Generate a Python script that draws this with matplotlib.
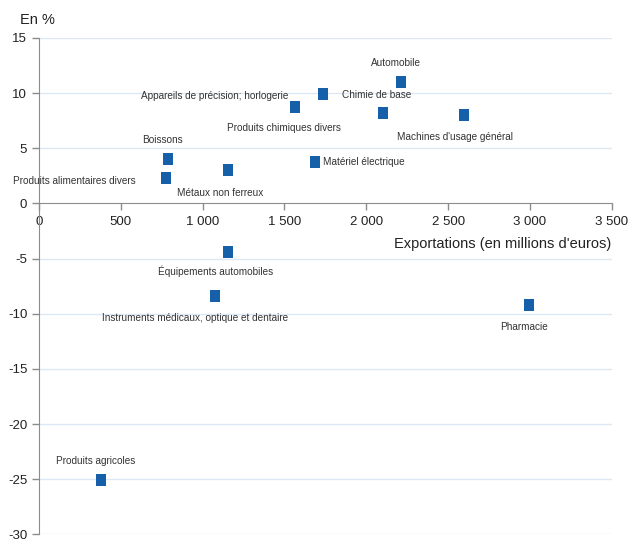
import matplotlib
matplotlib.use('Agg')
from matplotlib import pyplot as plt

# secteurs : exportations (M€) et évolution (%)
secteurs = ['Produits agricoles', 'Produits alimentaires divers', 'Boissons',
            'Métaux non ferreux', 'Appareils de précision; horlogerie',
            'Produits chimiques divers', 'Matériel électrique', 'Automobile',
            'Chimie de base', "Machines d'usage général",
            'Équipements automobiles', 'Instruments médicaux, optique et dentaire',
            'Pharmacie']
exportations = [380, 775, 790, 1155, 1565, 1735, 1685, 2215, 2105, 2600,
                1155, 1075, 2995]
evolution = [-25.1, 2.3, 4.0, 3.0, 8.7, 9.9, 3.8, 11.0, 8.2, 8.0,
             -4.4, -8.4, -9.2]

# placement des étiquettes (décalage en points, alignement horizontal)
offsets = [((-4, 14), 'center'), ((-22, -2), 'right'), ((-4, 14), 'center'),
           ((-6, -16), 'center'), ((-5, 8), 'right'), ((-28, -24), 'center'),
           ((6, 0), 'left'), ((-4, 14), 'center'), ((-5, 13), 'center'),
           ((-7, -16), 'center'), ((-9, -14), 'center'), ((-14, -16), 'center'),
           ((-4, -16), 'center')]

plt.rcParams['font.family'] = ['Liberation Sans', 'DejaVu Sans']
plt.rcParams['axes.unicode_minus'] = False
bleu = '#1660a9'
gris = '#8c8c8c'

fig = plt.figure(figsize=(6.3, 5.42), dpi=100)
ax = fig.add_axes([0.062, 0.014, 0.909, 0.916])

ax.set_xlim(0, 3500)
ax.set_ylim(-30, 15)

for y in range(-30, 16, 5):
    if y != 0:
        ax.axhline(y, color='#dce8f4', lw=1.0, zorder=0)

marqueur = [(-0.38, -0.5), (0.38, -0.5), (0.38, 0.5), (-0.38, 0.5), (-0.38, -0.5)]
ax.scatter(exportations, evolution, marker=marqueur, s=75, color=bleu,
           linewidths=0, zorder=3)

for nom, x, y, (off, ha) in zip(secteurs, exportations, evolution, offsets):
    ax.annotate(nom, (x, y), xytext=off, textcoords='offset points',
                ha=ha, va='center', fontsize=7.2, color='#333333')

ax.spines['top'].set_visible(False)
ax.spines['right'].set_visible(False)
ax.spines['bottom'].set_position(('data', 0))
ax.spines['bottom'].set_color(gris)
ax.spines['left'].set_color(gris)

ax.set_xticks(range(0, 3501, 500))
ax.set_xticklabels(['0', '500', '1 000', '1 500', '2 000', '2 500', '3 000', '3 500'])
ax.set_yticks(range(-30, 16, 5))
ax.tick_params(axis='both', colors=gris, labelcolor='#222222', labelsize=9.5,
               length=5, width=1)
ax.tick_params(axis='x', pad=4)

ax.text(3500, -3.7, "Exportations (en millions d'euros)", ha='right', va='center',
        fontsize=10.5, color='#222222')
fig.text(0.059, 0.963, 'En %', ha='center', va='center', fontsize=10.5,
         color='#222222')

plt.savefig('out.png', dpi=100)
